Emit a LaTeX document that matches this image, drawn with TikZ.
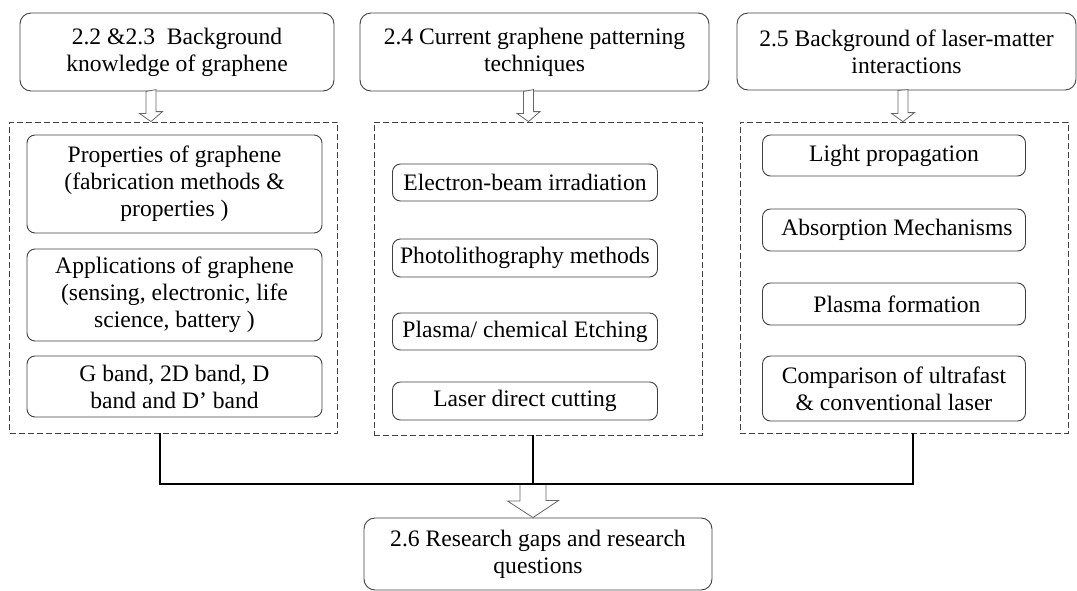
\documentclass[tikz,border=0pt]{standalone}
\usepackage{fontspec}
\setmainfont{Liberation Serif}
\usepackage{tikz}
\usetikzlibrary{calc}

\tikzset{
	topbox/.style={rectangle,draw=black!75,line width=0.9pt,rounded corners=11pt,align=center,inner sep=0pt},
	itembox/.style={rectangle,draw=black!75,line width=0.9pt,rounded corners=8pt,align=center,inner sep=0pt},
	groupbox/.style={rectangle,draw=black!75,line width=0.8pt,dash pattern=on 6pt off 3pt,inner sep=0pt},
	hollow/.style={draw=black!60,line width=0.8pt,fill=white},
	bus/.style={line width=2.3pt,black}
}

\begin{document}
\begin{tikzpicture}[x=1pt,y=-1pt,font=\fontsize{23.6}{27}\selectfont]
		\useasboundingbox (0,0) rectangle (1077,590);
%		\draw[help lines,step=50] (0,0) grid (1077,590);
		\path (151,0) coordinate (arr1);
		\path (528.5,0) coordinate (arr2);
		\path (903,0) coordinate (arr3);
		\path (160,484) coordinate (j1);
		\path (533,484) coordinate (j2);
		\path (913,484) coordinate (j3);

		\path (177,52) node(top1) [topbox,minimum width=314pt,minimum height=78pt] {2.2 \&2.3\ \ Background\\knowledge of graphene};
		\path (534.5,52) node(top2) [topbox,minimum width=349pt,minimum height=78pt] {2.4 Current graphene patterning\\techniques};
		\path (906.5,51.5) node(top3) [topbox,minimum width=339pt,minimum height=77pt] {2.5 Background of laser-matter\\interactions};

		\path (173.5,277.5) node(grp1) [groupbox,minimum width=328pt,minimum height=311pt] {};
		\path (538,278.5) node(grp2) [groupbox,minimum width=328pt,minimum height=313pt] {};
		\path (904,277.5) node(grp3) [groupbox,minimum width=328pt,minimum height=311pt] {};

		\path (174.5,184) node(prop) [itembox,minimum width=295pt,minimum height=98pt] {Properties of graphene\\(fabrication methods \&\\properties )};
		\path (174.5,295) node(appl) [itembox,minimum width=295pt,minimum height=92pt] {Applications of graphene\\(sensing, electronic, life\\science, battery )};
		\path (174.5,386.5) node(bands) [itembox,minimum width=295pt,minimum height=61pt] {G band, 2D band, D\\band and D’ band};

		\path (525,182.5) node(ebeam) [itembox,minimum width=265pt,minimum height=37pt] {Electron-beam irradiation};
		\path (525,258) node(photo) [itembox,minimum width=265pt,minimum height=38pt] {Photolithography methods};
		\path (525,331.5) node(etch) [itembox,minimum width=265pt,minimum height=37pt] {Plasma/ chemical Etching};
		\path (525,401) node(ldc) [itembox,minimum width=265pt,minimum height=38pt] {Laser direct cutting};

		\path (894,155.5) node(light) [itembox,minimum width=263pt,minimum height=41pt] {Light propagation};
		\path (894,230) node(absorb) [itembox,minimum width=263pt,minimum height=42pt] {\ Absorption Mechanisms};
		\path (894,304) node(plasma) [itembox,minimum width=263pt,minimum height=42pt] {\ Plasma formation};
		\path (894,388.5) node(compare) [itembox,minimum width=263pt,minimum height=65pt] {Comparison of ultrafast\\\& conventional laser};

		\path (538,554) node(gaps) [topbox,minimum width=348pt,minimum height=72pt] {2.6 Research gaps and research\\questions};

		\draw[hollow] ($(arr1 |- top1.south)+(-5,0)$) -- ++(0,22) -- ++(-6.5,0) -- (arr1 |- grp1.north) -- ++(11.5,-10) -- ++(-6.5,0) -- ++(0,-22) -- cycle;
		\draw[hollow] ($(arr2 |- top2.south)+(-5,0)$) -- ++(0,22) -- ++(-6.5,0) -- (arr2 |- grp2.north) -- ++(11.5,-10) -- ++(-6.5,0) -- ++(0,-22) -- cycle;
		\draw[hollow] ($(arr3 |- top3.south)+(-5,0)$) -- ++(0,23) -- ++(-6.5,0) -- (arr3 |- grp3.north) -- ++(11.5,-9) -- ++(-6.5,0) -- ++(0,-23) -- cycle;
		\draw[hollow] ($(j2)+(-13,0)$) -- ++(0,17) -- ++(-12.5,0) -- (j2 |- gaps.north) -- ++(25.5,-17) -- ++(-12.5,0) -- ++(0,-17) -- cycle;

		\draw[bus] (j1 |- grp1.south) -- (j1) -- (j3) -- (j3 |- grp3.south);
		\draw[bus] (j2 |- grp2.south) -- (j2);
	\end{tikzpicture}
\end{document}
